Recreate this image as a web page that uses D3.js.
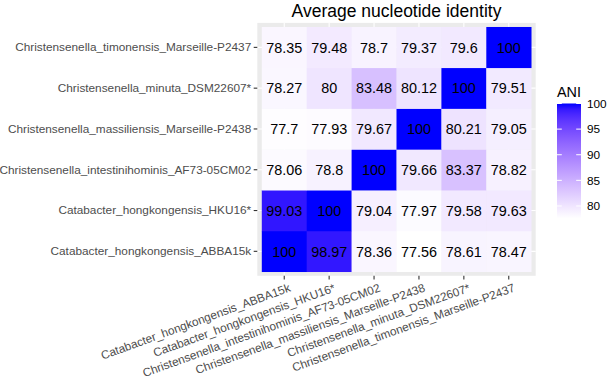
<!DOCTYPE html>
<html>
<head>
<meta charset="utf-8">
<script src="https://cdn.jsdelivr.net/npm/d3@7"></script>
<style>
  body { margin: 0; background: #fff; }
  svg { display: block; font-family: "Liberation Sans", Arial, sans-serif; }
</style>
</head>
<body>
<svg id="chart"></svg>
<script>
(() => {
let genomes = [
  'Catabacter_hongkongensis_ABBA15k',
  'Catabacter_hongkongensis_HKU16*',
  'Christensenella_intestinihominis_AF73-05CM02',
  'Christensenella_massiliensis_Marseille-P2438',
  'Christensenella_minuta_DSM22607*',
  'Christensenella_timonensis_Marseille-P2437'
];

// one array per row (y genome), values across x genomes
let aniABBA15k = [100, 98.97, 78.36, 77.56, 78.61, 78.47];
let aniHKU16 = [99.03, 100, 79.04, 77.97, 79.58, 79.63];
let aniIntestini = [78.06, 78.8, 100, 79.66, 83.37, 78.82];
let aniMassil = [77.7, 77.93, 79.67, 100, 80.21, 79.05];
let aniMinuta = [78.27, 80, 83.48, 80.12, 100, 79.51];
let aniTimon = [78.35, 79.48, 78.7, 79.37, 79.6, 100];

let legendTicks = [80, 85, 90, 95, 100];

let rows = [aniABBA15k, aniHKU16, aniIntestini, aniMassil, aniMinuta, aniTimon];
let cells = [];
rows.forEach((vals, r) => vals.forEach((v, c) => cells.push({ x: genomes[c], y: genomes[r], v: v })));

let svgWidth = 607,
    svgHeight = 376,
    panelLeft = 257.3,
    panelRight = 535.7,
    panelTop = 22.9,
    panelBottom = 275.8,
    axisFont = 11.8;

let svg = d3.select('#chart')
    .attr('width', svgWidth)
    .attr('height', svgHeight);

let xScale = d3.scaleBand()
    .domain(genomes)
    .range([panelLeft, panelRight])
    .paddingInner(0)
    .paddingOuter(0.1);

let yScale = d3.scaleBand()
    .domain(genomes.slice().reverse())
    .range([panelTop, panelBottom])
    .paddingInner(0)
    .paddingOuter(0.1);

let vMin = d3.min(cells, d => d.v),
    vMax = d3.max(cells, d => d.v);

let colour = d3.scaleLinear()
    .domain([vMin, vMax])
    .range(['white', 'blue'])
    .interpolate(d3.interpolateLab);

// panel background + grid
svg.append('rect')
    .attr('x', panelLeft)
    .attr('y', panelTop)
    .attr('width', panelRight - panelLeft)
    .attr('height', panelBottom - panelTop)
    .attr('fill', '#EBEBEB');

svg.append('g').selectAll('line.vx')
    .data(genomes)
    .enter()
    .append('line')
    .attr('x1', d => xScale(d) + xScale.bandwidth() / 2)
    .attr('x2', d => xScale(d) + xScale.bandwidth() / 2)
    .attr('y1', panelTop)
    .attr('y2', panelBottom)
    .attr('stroke', '#fff')
    .attr('stroke-width', 1.1);

svg.append('g').selectAll('line.hy')
    .data(genomes)
    .enter()
    .append('line')
    .attr('y1', d => yScale(d) + yScale.bandwidth() / 2)
    .attr('y2', d => yScale(d) + yScale.bandwidth() / 2)
    .attr('x1', panelLeft)
    .attr('x2', panelRight)
    .attr('stroke', '#fff')
    .attr('stroke-width', 1.1);

// tiles
svg.append('g').selectAll('rect')
    .data(cells)
    .enter()
    .append('rect')
    .attr('x', d => xScale(d.x))
    .attr('y', d => yScale(d.y))
    .attr('width', xScale.bandwidth() + 0.3)
    .attr('height', yScale.bandwidth() + 0.3)
    .attr('fill', d => colour(d.v));

svg.append('g').selectAll('text')
    .data(cells)
    .enter()
    .append('text')
    .text(d => d.v)
    .attr('x', d => xScale(d.x) + xScale.bandwidth() / 2)
    .attr('y', d => yScale(d.y) + yScale.bandwidth() / 2)
    .attr('dy', '0.36em')
    .attr('text-anchor', 'middle')
    .attr('font-size', 14.4)
    .attr('fill', '#000');

// axes
let yAxis = d3.axisLeft(yScale).tickSize(3.6).tickPadding(2.5);
let gy = svg.append('g')
    .attr('transform', `translate(${panelLeft},0)`)
    .call(yAxis);
gy.select('.domain').remove();
gy.attr('font-family', null).attr('font-size', null);
gy.selectAll('line').attr('stroke', '#333333').attr('stroke-width', 1.1);
gy.selectAll('text').attr('fill', '#4D4D4D').attr('font-size', axisFont);

let xAxis = d3.axisBottom(xScale).tickSize(3.6).tickPadding(0);
let gx = svg.append('g')
    .attr('transform', `translate(0,${panelBottom})`)
    .call(xAxis);
gx.select('.domain').remove();
gx.attr('font-family', null).attr('font-size', null);
gx.selectAll('line').attr('stroke', '#333333').attr('stroke-width', 1.1);
gx.selectAll('text')
    .attr('fill', '#4D4D4D')
    .attr('font-size', axisFont)
    .attr('text-anchor', 'end')
    .attr('y', 0)
    .attr('dy', null)
    .attr('transform', 'translate(4,7) rotate(-20)')
    .attr('dominant-baseline', 'hanging');

// title
svg.append('text')
    .text('Average nucleotide identity')
    .attr('x', (panelLeft + panelRight) / 2)
    .attr('y', 16.5)
    .attr('text-anchor', 'middle')
    .attr('font-size', 17.5)
    .attr('fill', '#000');

// legend
let legX = 557, legW = 24, legTop = 103.5, legBottom = 218.5;
let legScale = d3.scaleLinear()
    .domain([vMin, vMax])
    .range([legBottom, legTop]);

let grad = svg.append('defs').append('linearGradient')
    .attr('id', 'aniGrad')
    .attr('x1', 0).attr('y1', 1).attr('x2', 0).attr('y2', 0);
d3.range(0, 1.0001, 0.05).forEach(t => {
  grad.append('stop')
      .attr('offset', t)
      .attr('stop-color', colour(vMin + t * (vMax - vMin)));
});

svg.append('text')
    .text('ANI')
    .attr('x', legX)
    .attr('y', 97)
    .attr('font-size', 14.4)
    .attr('fill', '#000');

svg.append('rect')
    .attr('x', legX)
    .attr('y', legTop)
    .attr('width', legW)
    .attr('height', legBottom - legTop)
    .attr('fill', 'url(#aniGrad)');

let lt = svg.append('g').selectAll('g')
    .data(legendTicks)
    .enter()
    .append('g');
lt.append('line')
    .attr('x1', legX).attr('x2', legX + legW / 5)
    .attr('y1', d => legScale(d)).attr('y2', d => legScale(d))
    .attr('stroke', '#fff').attr('stroke-width', 1);
lt.append('line')
    .attr('x1', legX + legW * 4 / 5).attr('x2', legX + legW)
    .attr('y1', d => legScale(d)).attr('y2', d => legScale(d))
    .attr('stroke', '#fff').attr('stroke-width', 1);
lt.append('text')
    .text(d => d)
    .attr('x', legX + legW + 6)
    .attr('y', d => legScale(d))
    .attr('dy', '0.36em')
    .attr('font-size', axisFont)
    .attr('fill', '#000');
})();
</script>
</body>
</html>
